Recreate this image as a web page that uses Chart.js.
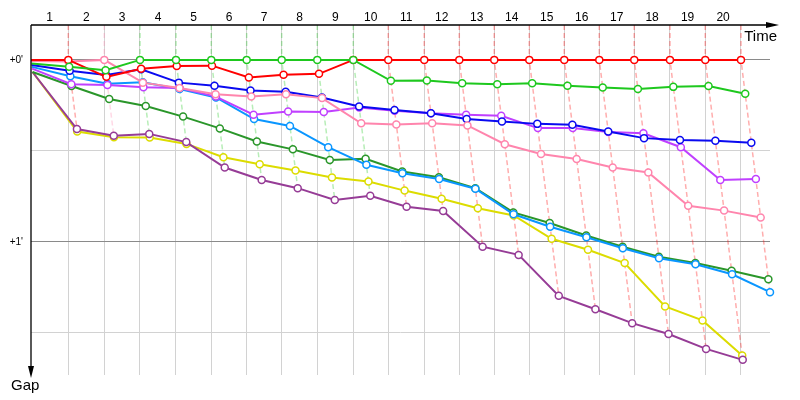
<!DOCTYPE html>
<html>
<head>
<meta charset="utf-8">
<script src="https://cdn.jsdelivr.net/npm/chart.js@4"></script>
<style>html,body{margin:0;padding:0;background:#fff}canvas{display:block}</style>
</head>
<body>
<canvas id="c" width="800" height="400"></canvas>
<script>
// Lap labels (top axis) and leader's cumulative race time (s) at the end of each lap (index 0 = start)
const lapLabels = ['1','2','3','4','5','6','7','8','9','10','11','12','13','14','15','16','17','18','19','20'];
const leaderTimes = [0, 98.4, 193.4, 287.6, 382.6, 475.7, 569.1, 661.5, 755.4, 850.4, 942.7, 1037.7, 1130.1, 1222.4, 1314.8, 1407.1, 1499.5, 1591.8, 1686.0, 1779.2, 1873.4];

// Gap to leader (s) of each driver at the end of each lap (index 0 = start)
const gapGreen  = [1.2, 2.3, 3.4, 0, 0, 0, 0, 0, 0, 0, 6.9, 6.8, 7.7, 8.0, 7.7, 8.5, 9.1, 9.6, 8.9, 8.6, 11.2];
const gapRed    = [0, 0, 5.6, 2.9, 2.0, 1.9, 5.8, 4.9, 4.6, 0, 0, 0, 0, 0, 0, 0, 0, 0, 0, 0, 0];
const gapPink   = [0.4, 0.5, 0, 7.5, 9.3, 11.3, 12.1, 11.3, 12.6, 20.9, 21.3, 20.9, 21.6, 27.8, 31.0, 32.7, 35.5, 37.1, 48.1, 49.7, 52.0];
const gapBlue   = [1.7, 3.6, 5.0, 3.1, 7.5, 8.5, 10.1, 10.5, 12.4, 15.4, 16.5, 17.6, 19.5, 20.3, 21.1, 21.4, 23.6, 25.8, 26.4, 26.7, 27.3];
const gapViolet = [2.9, 8.0, 8.3, 9.0, 9.3, 12.1, 18.1, 17.0, 17.2, 15.7, 16.8, 17.6, 18.1, 18.4, 22.5, 22.5, 23.8, 24.2, 28.8, 39.6, 39.3];
const gapSky    = [2.3, 5.4, 7.9, 7.4, 9.6, 12.4, 19.5, 21.8, 28.8, 34.6, 37.4, 39.3, 42.5, 50.9, 55.0, 58.5, 62.1, 65.4, 67.4, 70.7, 76.6];
const gapForest = [4.0, 8.6, 12.9, 15.2, 18.7, 22.6, 26.9, 29.5, 33.0, 32.6, 36.8, 38.7, 42.3, 50.3, 53.8, 57.9, 61.6, 64.9, 67.0, 69.5, 72.3];
const gapPurple = [4.0, 22.8, 25.0, 24.4, 27.1, 35.5, 39.6, 42.3, 46.2, 44.8, 48.4, 49.8, 61.6, 64.3, 77.8, 82.2, 86.8, 90.4, 95.3, 98.9];
const gapYellow = [4.0, 23.6, 25.5, 25.6, 27.7, 32.1, 34.4, 36.5, 38.8, 40.1, 43.1, 45.8, 48.9, 51.3, 59.0, 62.6, 67.0, 81.3, 85.9, 97.5];

const seriesNames  = ['Green', 'Red', 'Pink', 'Blue', 'Violet', 'Sky', 'Forest', 'Purple', 'Yellow'];
const seriesColors = ['#1ec81e', '#ff0000', '#ff85ad', '#0a0af0', '#c040ff', '#0a96ff', '#2a962a', '#963c96', '#dcdc00'];
const seriesGaps   = [gapGreen, gapRed, gapPink, gapBlue, gapViolet, gapSky, gapForest, gapPurple, gapYellow];

// Y axis ticks (seconds) and their labels
const yTicks = [0, 30, 60, 90];
const yTickLabels = {0: "+0'", 60: "+1'"};
const Y_MIN = -11.5, Y_MAX = 103.9, X_MAX = 1950;

function rgba(hex, a) {
  const n = parseInt(hex.slice(1), 16);
  return 'rgba(' + ((n >> 16) & 255) + ',' + ((n >> 8) & 255) + ',' + (n & 255) + ',' + a + ')';
}

const datasets = [];
seriesGaps.forEach((g, i) => {
  datasets.push({
    label: seriesNames[i],
    data: g.map((v, k) => ({x: leaderTimes[k] + v, y: v})),
    borderColor: seriesColors[i],
    backgroundColor: '#fff',
    borderWidth: 2,
    pointRadius: ctx => ctx.dataIndex === 0 ? 0 : 3.5,
    pointBorderWidth: 1.5,
    pointBackgroundColor: '#fff',
    pointBorderColor: seriesColors[i],
    tension: 0,
    clip: false,
    order: i
  });
});

// Lap connectors: one dashed line per lap through every driver's point of that lap
for (let k = 1; k < leaderTimes.length; k++) {
  const pts = [];
  let lead = -1, best = Infinity;
  seriesGaps.forEach((g, i) => {
    if (k < g.length) {
      pts.push({x: leaderTimes[k] + g[k], y: g[k]});
      if (g[k] < best) { best = g[k]; lead = i; }
    }
  });
  pts.sort((a, b) => a.y - b.y);
  pts.unshift({x: leaderTimes[k], y: Y_MIN});
  datasets.push({
    label: 'lap' + k,
    data: pts,
    borderColor: rgba(seriesColors[lead], 0.32),
    borderWidth: 1.5,
    borderDash: [5, 3],
    pointRadius: 0,
    tension: 0,
    clip: false,
    order: 100
  });
}

const axesPlugin = {
  id: 'axesArrows',
  afterDraw(chart) {
    const {ctx, chartArea: a} = chart;
    ctx.save();
    ctx.strokeStyle = '#000';
    ctx.fillStyle = '#000';
    ctx.lineWidth = 1.3;
    ctx.beginPath();
    ctx.moveTo(a.left, a.top); ctx.lineTo(a.right, a.top);
    ctx.moveTo(a.left, a.top); ctx.lineTo(a.left, a.bottom - 6);
    ctx.stroke();
    ctx.beginPath();
    ctx.moveTo(a.right + 9, a.top); ctx.lineTo(a.right - 4, a.top - 3); ctx.lineTo(a.right - 4, a.top + 3);
    ctx.closePath(); ctx.fill();
    ctx.beginPath();
    ctx.moveTo(a.left, a.bottom + 3); ctx.lineTo(a.left - 3, a.bottom - 9); ctx.lineTo(a.left + 3, a.bottom - 9);
    ctx.closePath(); ctx.fill();
    ctx.font = "15px 'Liberation Sans', Arial, sans-serif";
    ctx.textBaseline = 'alphabetic';
    ctx.textAlign = 'right';
    ctx.fillText('Time', a.right + 7, a.top + 16);
    ctx.textAlign = 'left';
    ctx.fillText('Gap', a.left - 20, a.bottom + 15);
    ctx.restore();
  }
};

Chart.defaults.font.family = "'Liberation Sans', Arial, sans-serif";
Chart.defaults.color = '#000';

new Chart(document.getElementById('c'), {
  type: 'line',
  data: {datasets},
  plugins: [axesPlugin],
  options: {
    responsive: false,
    animation: false,
    events: [],
    layout: {padding: {left: 0, top: 0, right: 30, bottom: 25}},
    plugins: {legend: {display: false}, tooltip: {enabled: false}},
    scales: {
      x: {
        type: 'linear', position: 'top', min: 0, max: X_MAX,
        afterBuildTicks: s => { s.ticks = lapLabels.map((l, i) => ({value: (leaderTimes[i] + leaderTimes[i + 1]) / 2})); },
        afterFit: s => { s.height = 25; },
        grid: {display: false, drawTicks: false},
        border: {display: false},
        ticks: {autoSkip: false, maxRotation: 0, minRotation: 0, padding: 0, color: '#000', font: {size: 12},
                callback: (v, i) => lapLabels[i]}
      },
      xg: {
        type: 'linear', position: 'top', min: 0, max: X_MAX,
        afterBuildTicks: s => { s.ticks = leaderTimes.slice(1).map(v => ({value: v})); },
        afterFit: s => { s.height = 0; },
        grid: {color: '#d2d2d2', lineWidth: 1, drawTicks: false},
        border: {display: false},
        ticks: {display: false}
      },
      y: {
        type: 'linear', reverse: true, min: Y_MIN, max: Y_MAX,
        afterBuildTicks: s => { s.ticks = yTicks.map(v => ({value: v})); },
        afterFit: s => { s.width = 31; },
        grid: {color: ctx => (ctx.tick && ctx.tick.value % 60 === 0) ? '#8a8a8a' : '#d2d2d2', lineWidth: 1, drawTicks: false},
        border: {display: false},
        ticks: {padding: 8, color: '#000', font: {size: 10}, callback: v => yTickLabels[v] || ''}
      }
    }
  }
});
</script>
</body>
</html>
